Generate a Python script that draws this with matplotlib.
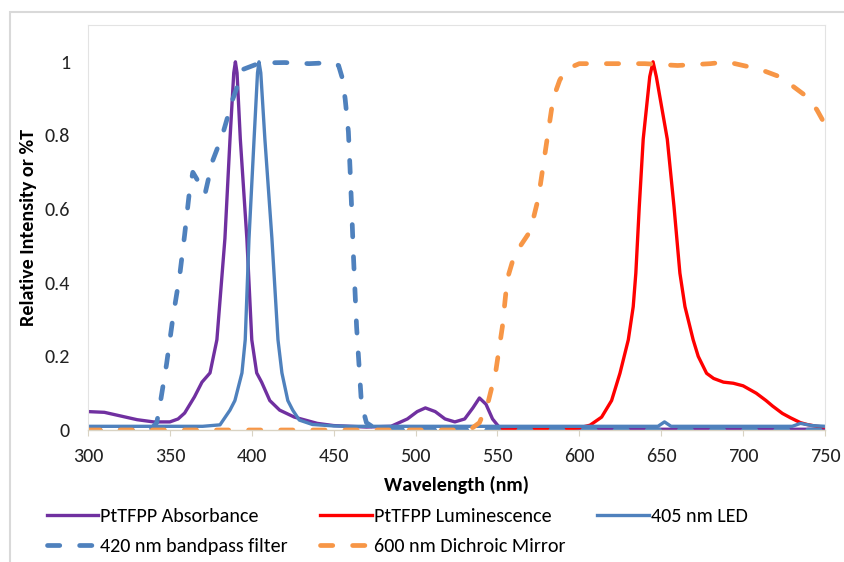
import matplotlib
matplotlib.use("Agg")
import matplotlib.pyplot as plt
from matplotlib.patches import Rectangle

# spectra: wavelength (nm) / relative value
abs_wl = [300, 310, 320, 330, 340, 350, 355, 359, 365, 369.6, 374.5, 378.7, 383.6,
          386.7, 389, 390, 391, 393, 397, 400, 403, 406, 411, 417, 426, 440, 450,
          470, 485, 495, 501, 506, 512, 518, 524, 530, 535, 539, 543, 547, 551, 560,
          600, 650, 700, 750]
abs_val = [0.05, 0.048, 0.038, 0.028, 0.022, 0.022, 0.03, 0.046, 0.09, 0.13, 0.155,
           0.245, 0.52, 0.79, 0.97, 1.0, 0.97, 0.79, 0.52, 0.245, 0.155, 0.13, 0.08,
           0.054, 0.035, 0.018, 0.012, 0.008, 0.01, 0.03, 0.05, 0.06, 0.05, 0.03,
           0.022, 0.03, 0.06, 0.087, 0.07, 0.03, 0.008, 0.003, 0.002, 0.002, 0.002,
           0.002]

lum_wl = [550, 590, 600, 606.5, 613.6, 619.7, 624.8, 629.9, 632.9, 634.5, 636.6, 639,
          643, 645, 647, 653.7, 657.8, 661.4, 664.5, 669.5, 672.6, 677.7, 682, 688,
          694, 700, 708, 714, 718, 724, 729, 735, 739, 745, 750]
lum_val = [0.0, 0.002, 0.006, 0.013, 0.035, 0.08, 0.154, 0.245, 0.335, 0.426, 0.607,
           0.79, 0.96, 1.0, 0.96, 0.79, 0.607, 0.426, 0.335, 0.245, 0.2, 0.154, 0.14,
           0.13, 0.127, 0.12, 0.10, 0.08, 0.065, 0.045, 0.033, 0.02, 0.015, 0.01,
           0.008]

led_wl = [300, 370, 380.6, 386.7, 389.7, 394, 396, 398.3, 401.4, 403.5, 404.4, 405.5,
          408, 412.3, 416, 418.4, 422, 425, 429, 437, 450, 460, 600, 648, 652, 656,
          700, 730, 735, 742, 750]
led_val = [0.01, 0.01, 0.014, 0.054, 0.08, 0.155, 0.245, 0.52, 0.79, 0.97, 1.0, 0.97,
           0.79, 0.52, 0.245, 0.155, 0.08, 0.054, 0.027, 0.015, 0.011, 0.01, 0.01,
           0.01, 0.022, 0.01, 0.01, 0.01, 0.018, 0.012, 0.01]

bp_wl = [300, 338, 342, 344, 348, 352, 356, 359, 362, 364, 368, 371.4, 376, 382,
         388.5, 395, 405, 420, 435, 450, 453, 455, 457, 459, 460, 461, 462, 464, 467,
         470, 475, 480, 750]
bp_val = [0.0, 0.0, 0.02, 0.07, 0.18, 0.31, 0.42, 0.53, 0.65, 0.70, 0.67, 0.64, 0.73,
          0.80, 0.90, 0.98, 0.997, 0.998, 0.995, 0.998, 0.99, 0.96, 0.9, 0.81, 0.71,
          0.6, 0.48, 0.28, 0.07, 0.02, 0.005, 0.0, 0.0]

dm_wl = [300, 533, 539, 544, 549, 553, 556, 560, 564, 567, 570, 575, 578, 581, 584,
         588, 592, 600, 620, 640, 660, 680, 690, 700, 710, 722, 730, 739, 745, 750]
dm_val = [0.0, 0.0, 0.02, 0.07, 0.16, 0.28, 0.41, 0.47, 0.5, 0.52, 0.54, 0.63, 0.72,
          0.81, 0.9, 0.95, 0.98, 0.995, 0.995, 0.995, 0.99, 0.995, 1.0, 0.99, 0.98,
          0.96, 0.935, 0.905, 0.87, 0.83]

plt.rcParams["font.family"] = ["Carlito", "DejaVu Sans"]
fs = 14.5

fig = plt.figure(figsize=(8.45, 5.62), dpi=100)
fig.patches.append(Rectangle((10 / 845, -0.1), 1.1, 0.1 + 1 - 12 / 562,
                             transform=fig.transFigure, fill=False,
                             edgecolor="#d9d9d9", linewidth=1.5))
ax = fig.add_axes([88 / 845, 1 - 430 / 562, 737 / 845, 405 / 562])

dash = (0, (2.6, 4.2))
l_abs, = ax.plot(abs_wl, abs_val, color="#7030a0", lw=2.4, label="PtTFPP Absorbance")
l_lum, = ax.plot(lum_wl, lum_val, color="#ff0000", lw=2.4, label="PtTFPP Luminescence")
l_led, = ax.plot(led_wl, led_val, color="#4f81bd", lw=2.4, label="405 nm LED")
l_bp, = ax.plot(bp_wl, bp_val, color="#4f81bd", lw=3.4, ls=dash,
                dash_capstyle="round", label="420 nm bandpass filter")
l_dm, = ax.plot(dm_wl, dm_val, color="#f79646", lw=3.4, ls=dash,
                dash_capstyle="round", label="600 nm Dichroic Mirror")

ax.set_xlim(300, 750)
ax.set_ylim(0, 1.1)
ax.set_xticks(range(300, 751, 50))
ax.set_yticks([0, 0.2, 0.4, 0.6, 0.8, 1.0])
ax.set_yticklabels(["0", "0.2", "0.4", "0.6", "0.8", "1"])
ax.tick_params(axis="y", length=0, pad=13, labelsize=fs, labelcolor="#222222")
ax.tick_params(axis="x", length=4, width=0.8, color="#d9d3c3", pad=9,
               labelsize=fs, labelcolor="#222222")
for side in ["top", "right", "left"]:
    ax.spines[side].set_color("#e3e3e3")
    ax.spines[side].set_linewidth(0.8)
ax.spines["bottom"].set_color("#d9d3c3")
ax.spines["bottom"].set_linewidth(1.0)

ax.set_xlabel("Wavelength (nm)", fontsize=fs, fontweight="bold", labelpad=8)
ax.set_ylabel("Relative Intensity or %T", fontsize=fs, fontweight="bold", labelpad=5)

# filled column by column, so this order reads across the rows
order = [l_abs, l_bp, l_lum, l_dm, l_led]
fig.legend(handles=order, loc="upper left", bbox_to_anchor=(47 / 845, 1 - 508 / 562),
           ncol=3, frameon=False, fontsize=fs, handlelength=2.55, handletextpad=0.1,
           columnspacing=1.6, labelspacing=0.62, borderpad=0, borderaxespad=0)

fig.savefig("out.png", dpi=100)
